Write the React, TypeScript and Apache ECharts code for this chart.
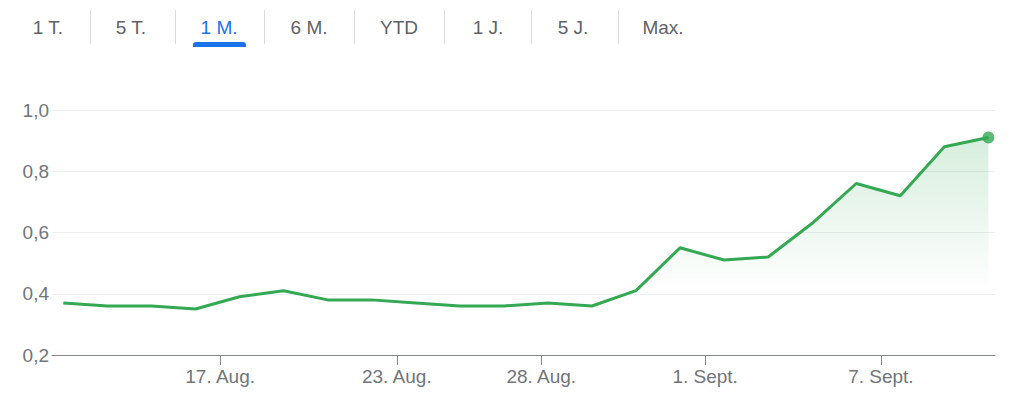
import React, { useEffect, useRef } from "react";
import * as echarts from "echarts";

// ---- Data ----
const values = [0.37, 0.36, 0.36, 0.35, 0.39, 0.41, 0.38, 0.38, 0.37, 0.36, 0.36, 0.37, 0.36, 0.41, 0.55, 0.51, 0.52, 0.63, 0.76, 0.72, 0.88, 0.91];
const tickPositions = [3.56, 7.57, 10.85, 14.57, 18.56];
const tickLabels = ["17. Aug.", "23. Aug.", "28. Aug.", "1. Sept.", "7. Sept."];
const yTicks = { min: 0.2, max: 1.0, interval: 0.2 };
const tabLabels = ["1 T.", "5 T.", "1 M.", "6 M.", "YTD", "1 J.", "5 J.", "Max."];
const selectedTab = 2;

const FONT = "'Liberation Sans', Arial, Helvetica, sans-serif";
const GREEN = "#34a853";

export default function App() {
  const ref = useRef<HTMLDivElement>(null);
  useEffect(() => {
    if (!ref.current) return;
    const chart = echarts.init(ref.current, null, { renderer: "svg" });

    const tabCenters = [48, 131, 219, 309, 399, 488, 573, 663];
    const graphics: any[] = [];
    tabLabels.forEach((t, i) => {
      graphics.push({
        type: "text",
        x: tabCenters[i],
        y: 27,
        style: {
          text: t,
          fill: i === selectedTab ? "#1a73e8" : "#5f6368",
          font: `19px ${FONT}`,
          align: "center",
          verticalAlign: "middle",
        },
      });
      if (i < tabLabels.length - 1) {
        const sx = Math.round((tabCenters[i] + tabCenters[i + 1]) / 2) + 0.5;
        graphics.push({
          type: "line",
          shape: { x1: sx, y1: 10, x2: sx, y2: 44 },
          style: { stroke: "#dadce0", lineWidth: 1 },
        });
      }
    });
    graphics.push({
      type: "rect",
      shape: { x: tabCenters[selectedTab] - 26, y: 42, width: 53, height: 5, r: [3, 3, 0, 0] },
      style: { fill: "#1a73e8" },
    });

    const labelMap: Record<string, string> = {};
    tickPositions.forEach((p, i) => (labelMap[String(p)] = tickLabels[i]));

    chart.setOption({
      animation: false,
      backgroundColor: "#ffffff",
      graphic: graphics,
      grid: { left: 52, right: 29, top: 110, bottom: 43, containLabel: false },
      xAxis: {
        type: "value",
        min: -0.257,
        max: 21.15,
        splitLine: { show: false },
        axisLine: { show: true, lineStyle: { color: "#80868b", width: 1 } },
        axisTick: { show: true, length: 10, customValues: tickPositions, lineStyle: { color: "#80868b" } },
        axisLabel: {
          customValues: tickPositions,
          formatter: (v: number) => labelMap[String(v)] ?? "",
          color: "#70757a",
          fontSize: 19,
          fontFamily: FONT,
          margin: 12,
        },
      },
      yAxis: {
        type: "value",
        min: yTicks.min,
        max: yTicks.max,
        interval: yTicks.interval,
        axisLine: { show: false },
        axisTick: { show: false },
        splitLine: { show: true, lineStyle: { color: "#eeeff1", width: 1 } },
        axisLabel: {
          formatter: (v: number) => v.toFixed(1).replace(".", ","),
          color: "#70757a",
          fontSize: 19,
          fontFamily: FONT,
          margin: 3,
        },
      },
      series: [
        {
          type: "line",
          data: values.map((v, i) => [i, v]),
          showSymbol: false,
          lineStyle: { color: GREEN, width: 3 },
          itemStyle: { color: GREEN },
          areaStyle: {
            color: new echarts.graphic.LinearGradient(0, 0, 0, 1, [
              { offset: 0, color: "rgba(52,168,83,0.28)" },
              { offset: 0.72, color: "rgba(52,168,83,0)" },
              { offset: 1, color: "rgba(52,168,83,0)" },
            ]),
          },
          z: 2,
        },
        {
          type: "scatter",
          data: [[values.length - 1, values[values.length - 1]]],
          symbolSize: 12,
          itemStyle: { color: GREEN },
          z: 3,
        },
      ],
    });
    return () => chart.dispose();
  }, []);
  return (
    <div
      ref={ref}
      style={{ position: "absolute", left: 0, top: 0, width: 1024, height: 398 }}
    />
  );
}
